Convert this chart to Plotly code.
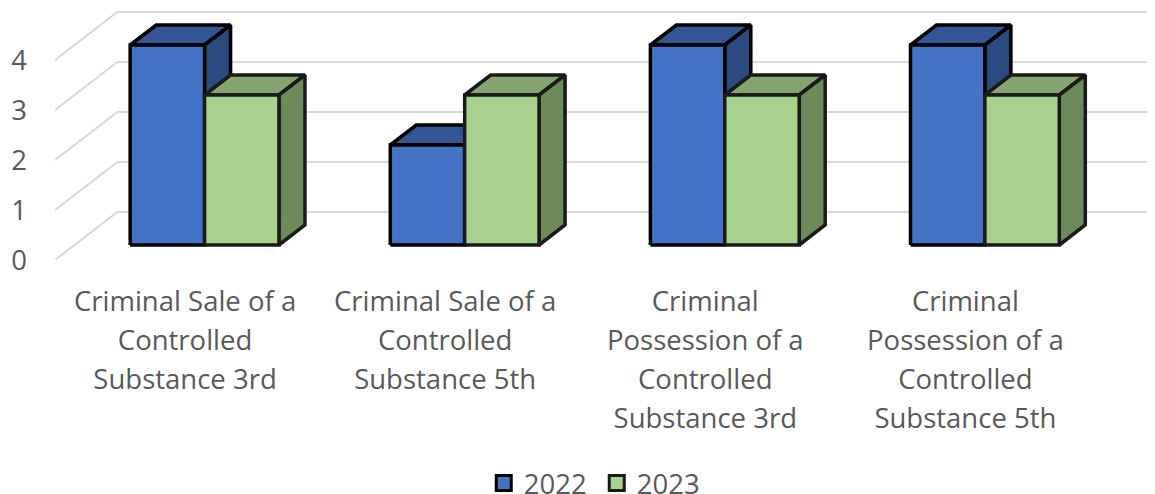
import plotly.graph_objects as go

# Data
categories = [
    ["Criminal Sale of a", "Controlled", "Substance 3rd"],
    ["Criminal Sale of a", "Controlled", "Substance 5th"],
    ["Criminal", "Possession of a", "Controlled", "Substance 3rd"],
    ["Criminal", "Possession of a", "Controlled", "Substance 5th"],
]
values_2022 = [4, 2, 4, 4]
values_2023 = [3, 3, 3, 3]
value_ticks = [0, 1, 2, 3, 4]

# Fake 3D: a point at depth d is shifted right and up from the bar's front plane
DX = 0.1
DY = 0.4
BAR_W = 0.286
D_WALL_FRONT = -0.75
D_WALL_BACK = 1.65


def proj(x, v, d=0):
    return x + DX * d, v + DY * d


def polys(faces):
    xs, ys = [], []
    for face in faces:
        pts = [proj(*p) for p in face] + [proj(*face[0])]
        xs += [p[0] for p in pts] + [None]
        ys += [p[1] for p in pts] + [None]
    return xs, ys


def bar_faces(values, left):
    top, side, front = [], [], []
    for i, v in enumerate(values):
        x0 = i + left
        x1 = x0 + BAR_W
        front.append([(x0, 0, 0), (x1, 0, 0), (x1, v, 0), (x0, v, 0)])
        top.append([(x0, v, 0), (x1, v, 0), (x1, v, 1), (x0, v, 1)])
        side.append([(x1, 0, 0), (x1, 0, 1), (x1, v, 1), (x1, v, 0)])
    return top, side, front


fig = go.Figure()

# Wall and floor gridlines
grid_x, grid_y = [], []
for v in value_ticks:
    for p in [proj(-0.5, v, D_WALL_FRONT), proj(-0.5, v, D_WALL_BACK), proj(3.6, v, D_WALL_BACK)]:
        grid_x.append(p[0])
        grid_y.append(p[1])
    grid_x.append(None)
    grid_y.append(None)
fig.add_trace(go.Scatter(x=grid_x, y=grid_y, mode="lines", line=dict(color="#D9D9D9", width=2),
                         showlegend=False, hoverinfo="skip"))

series = [
    ("2022", values_2022, -BAR_W, "#000000", "#4472C4", "#335593", "#2A4A80"),
    ("2023", values_2023, 0, "#1A1A1A", "#A9D18E", "#85A46F", "#6C8A5A"),
]
for name, values, left, edge, c_front, c_top, c_side in series:
    top, side, front = bar_faces(values, left)
    for faces, color in [(top, c_top), (side, c_side), (front, c_front)]:
        xs, ys = polys(faces)
        fig.add_trace(go.Scatter(x=xs, y=ys, mode="lines", fill="toself", fillcolor=color,
                                 line=dict(color=edge, width=3.5), showlegend=False, hoverinfo="skip"))

# Legend entries
for name, values, left, edge, c_front, c_top, c_side in series:
    fig.add_trace(go.Scatter(x=[None], y=[None], mode="markers", name=name,
                             marker=dict(symbol="square", size=15, color=c_front, line=dict(color=edge, width=3))))

tick_text = ['<br>'.join(f'<span style="font-size:27.5px">{s}</span>' for s in lines) for lines in categories]

# the page body adds 8px on the left and top, so the figure is 8px smaller
fig.update_layout(
    width=1147,
    height=486,
    margin=dict(l=47, r=0, t=0, b=234, autoexpand=False),
    plot_bgcolor="white",
    paper_bgcolor="white",
    font=dict(family="Open Sans", color="#595959", size=27.5),
    xaxis=dict(
        range=[-0.575, 3.654],
        tickmode="array",
        tickvals=[i + DX * D_WALL_FRONT for i in range(len(categories))],
        ticktext=tick_text,
        tickfont=dict(size=30),
        showgrid=False,
        zeroline=False,
        automargin=False,
        ticklabelstandoff=20,
    ),
    yaxis=dict(
        range=[DY * D_WALL_FRONT, 4.74],
        tickmode="array",
        tickvals=[v + DY * D_WALL_FRONT for v in value_ticks],
        ticktext=[str(v) for v in value_ticks],
        showgrid=False,
        zeroline=False,
        automargin=False,
        ticklabelstandoff=27,
    ),
    legend=dict(
        orientation="h",
        x=0.4925,
        xanchor="center",
        y=-0.885,
        yanchor="middle",
        entrywidth=68,
        entrywidthmode="pixels",
        itemwidth=30,
        font=dict(size=27.5),
    ),
)

fig.write_html("out.html")
